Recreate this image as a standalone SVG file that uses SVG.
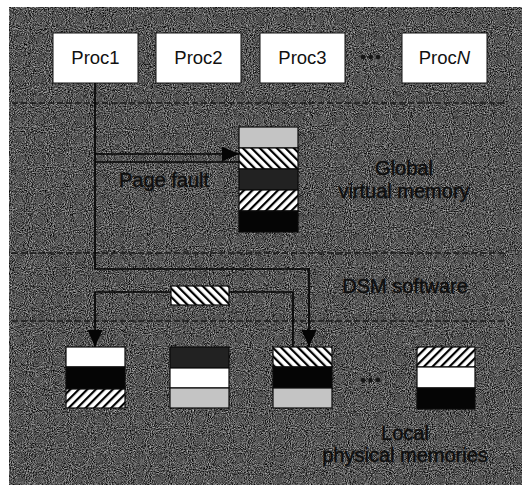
<svg xmlns="http://www.w3.org/2000/svg" width="522" height="485" viewBox="0 0 522 485">
<style>
.bg{fill:#555}
.proc{fill:#fff;stroke:#111;stroke-width:1}
.ptxt{font-family:"Liberation Sans",Arial,sans-serif;font-size:18.5px;fill:#111;text-anchor:middle}
.lbl{font-family:"Liberation Sans",Arial,sans-serif;font-size:20px;fill:#0e0e0e;stroke:#0e0e0e;stroke-width:0.4;text-anchor:middle}
.dash{stroke:#1a1a1a;stroke-width:1.3;stroke-dasharray:6 3;fill:none}
.conn{stroke:#050505;stroke-width:1.7;fill:none}
.blk{stroke:#0a0a0a;stroke-width:1.2}
.w{fill:#fff}.k{fill:#050505}.lg{fill:#c4c4c4}.dg{fill:#222}
.hb{fill:url(#hatchB)}.hf{fill:url(#hatchF)}
.dot{fill:#151515}
</style>
<defs>
<pattern id="hatchB" width="6" height="6" patternUnits="userSpaceOnUse" patternTransform="rotate(-45)">
<rect width="6" height="6" fill="#fff"/><rect width="2.2" height="6" fill="#000"/>
</pattern>
<pattern id="hatchF" width="6" height="6" patternUnits="userSpaceOnUse" patternTransform="rotate(45)">
<rect width="6" height="6" fill="#fff"/><rect width="2.2" height="6" fill="#000"/>
</pattern>
<filter id="grain" x="0" y="0" width="1" height="1" color-interpolation-filters="sRGB">
<feTurbulence type="fractalNoise" baseFrequency="0.95" numOctaves="2" seed="4"/>
<feColorMatrix type="matrix" values="1.1 0 0 0 -0.22  1.1 0 0 0 -0.22  1.1 0 0 0 -0.22  0 0 0 0 1"/>
</filter>
<marker id="arr" markerUnits="userSpaceOnUse" markerWidth="18" markerHeight="16" refX="17" refY="7.5" orient="auto">
<path d="M0,0 L17,7.5 L0,15 Z" fill="#050505"/>
</marker>
</defs>

<rect class="bg" x="9" y="7" width="513" height="478"/>
<rect x="9" y="7" width="513" height="478" fill="#555" filter="url(#grain)"/>

<g id="dividers">
<line class="dash" x1="12" y1="103" x2="505" y2="103"/>
<line class="dash" x1="12" y1="253" x2="505" y2="253"/>
<line class="dash" x1="12" y1="321" x2="505" y2="321"/>
</g>

<g id="proc1"><rect class="proc" x="53" y="33" width="85" height="50"/><text class="ptxt" x="95.5" y="64">Proc1</text></g>
<g id="proc2"><rect class="proc" x="156" y="33" width="85" height="50"/><text class="ptxt" x="198.5" y="64">Proc2</text></g>
<g id="proc3"><rect class="proc" x="260" y="33" width="85" height="50"/><text class="ptxt" x="302.5" y="64">Proc3</text></g>
<g id="procdots"><circle class="dot" cx="363" cy="57" r="2.3"/><circle class="dot" cx="370.5" cy="57" r="2.3"/><circle class="dot" cx="378" cy="57" r="2.3"/></g>
<g id="procN"><rect class="proc" x="402" y="33" width="85" height="50"/><text class="ptxt" x="444.5" y="64">Proc<tspan font-style="italic">N</tspan></text></g>

<g id="connectors">
<path class="conn" d="M95,83 V269 H309 V347" marker-end="url(#arr)"/>
<path class="conn" d="M95,154 H239" marker-end="url(#arr)"/>
<path class="conn" d="M95,162 H239"/>
<path class="conn" d="M171,292 H95 V347" marker-end="url(#arr)"/>
<path class="conn" d="M229,292 H293 V347"/>
</g>

<g id="global-memory">
<rect class="blk lg" x="239" y="127" width="59" height="21"/>
<rect class="blk hb" x="239" y="148" width="59" height="21"/>
<rect class="blk dg" x="239" y="169" width="59" height="21"/>
<rect class="blk hf" x="239" y="190" width="59" height="21"/>
<rect class="blk k" x="239" y="211" width="59" height="21"/>
</g>

<g id="page-in-transit"><rect class="blk hb" x="171" y="286" width="58" height="19"/></g>

<g id="local1">
<rect class="blk w" x="66" y="347" width="59" height="20"/>
<rect class="blk k" x="66" y="367" width="59" height="22"/>
<rect class="blk hf" x="66" y="389" width="59" height="19"/>
</g>
<g id="local2">
<rect class="blk dg" x="170" y="347" width="59" height="21"/>
<rect class="blk w" x="170" y="368" width="59" height="20"/>
<rect class="blk lg" x="170" y="388" width="59" height="20"/>
</g>
<g id="local3">
<rect class="blk hb" x="273" y="347" width="59" height="20"/>
<rect class="blk k" x="273" y="367" width="59" height="21"/>
<rect class="blk lg" x="273" y="388" width="59" height="20"/>
</g>
<g id="localdots"><circle class="dot" cx="363" cy="380" r="2.3"/><circle class="dot" cx="370.5" cy="380" r="2.3"/><circle class="dot" cx="378" cy="380" r="2.3"/></g>
<g id="localN">
<rect class="blk hf" x="417" y="347" width="58" height="20"/>
<rect class="blk w" x="417" y="367" width="58" height="21"/>
<rect class="blk k" x="417" y="388" width="58" height="21"/>
</g>

<g id="labels">
<text class="lbl" x="164" y="187">Page fault</text>
<text class="lbl" x="404" y="175">Global</text>
<text class="lbl" x="404" y="198">virtual memory</text>
<text class="lbl" x="405" y="293">DSM software</text>
<text class="lbl" x="405" y="440">Local</text>
<text class="lbl" x="405" y="462">physical memories</text>
</g>
</svg>
